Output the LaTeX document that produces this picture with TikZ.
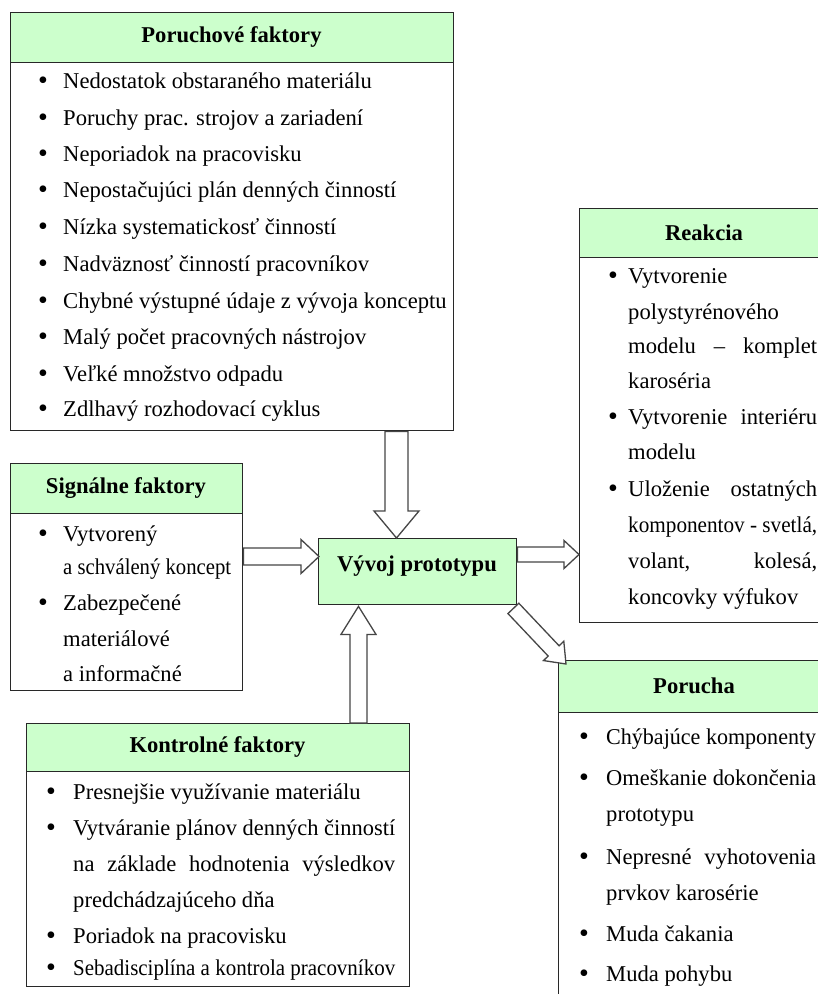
\documentclass[tikz,border=0pt]{standalone}
\usepackage{fontspec}
\setmainfont{Liberation Serif}
\usetikzlibrary{calc}
\definecolor{hdrgreen}{RGB}{204,255,204}
\definecolor{edgecol}{RGB}{40,40,40}
\definecolor{arrcol}{RGB}{70,70,70}
\newcommand\jl[2]{\setbox0=\hbox{#2}\ifdim\wd0>#1\relax\resizebox{#1}{\height}{#2}\else\hbox to #1{\spaceskip=.25em plus 1fill\relax #2}\fi}
\newcommand\bulletmark{\raisebox{-1.2pt}{\fontsize{28}{28}\selectfont\textbullet}}
\newcommand\itm[5]{\node[txt] (#1) at (#2,#3) {\makebox[#4][l]{\bulletmark}#5};}
\newcommand\barrow[5]{%
 \coordinate (ba) at ($(#2)!#5!(#1)$);
 \draw[blockarrow] ($(#1)!#3!90:(#2)$) -- ($(ba)!#3!-90:(#1)$) -- ($(ba)!#4!-90:(#1)$) -- (#2) -- ($(ba)!#4!90:(#1)$) -- ($(ba)!#3!90:(#1)$) -- ($(#1)!#3!-90:(#2)$) -- cycle;}
\tikzset{
 box/.style={draw=edgecol, line width=1.4pt, fill=white, anchor=north west, inner sep=0pt},
 hdr/.style={draw=edgecol, line width=1.4pt, fill=hdrgreen, anchor=north west, inner sep=0pt},
 htxt/.style={font=\fontsize{22.6}{26}\selectfont\bfseries, inner sep=0pt},
 txt/.style={font=\fontsize{22.6}{26}\selectfont, anchor=west, inner sep=0pt, text height=16pt, text depth=4pt},
 blockarrow/.style={draw=arrcol, line width=1.3pt, fill=white, line join=miter},
}
\begin{document}
\begin{tikzpicture}[x=1pt,y=-1pt]
\useasboundingbox (0,0) rectangle (818,994);
\clip (0,0) rectangle (818,994);
\fill[white] (0,0) rectangle (818,994);

% Poruchove faktory
\node[box, minimum width=443pt, minimum height=418pt] (pf) at (10,12) {};
\node[hdr, minimum width=443pt, minimum height=50pt] (pfh) at (10,12) {};
\node[htxt] (pft) at (231.5,37) {Poruchové faktory};
\itm{pf1}{38}{82}{25pt}{Nedostatok obstaraného materiálu}
\itm{pf2}{38}{119}{25pt}{Poruchy prac. strojov a zariadení}
\itm{pf3}{38}{155}{25pt}{Neporiadok na pracovisku}
\itm{pf4}{38}{191}{25pt}{Nepostačujúci plán denných činností}
\itm{pf5}{38}{228}{25pt}{Nízka systematickosť činností}
\itm{pf6}{38}{265}{25pt}{Nadväznosť činností pracovníkov}
\itm{pf7}{38}{302}{25pt}{Chybné výstupné údaje z vývoja konceptu}
\itm{pf8}{38}{338}{25pt}{Malý počet pracovných nástrojov}
\itm{pf9}{38}{375}{25pt}{Veľké množstvo odpadu}
\itm{pf10}{38}{410}{25pt}{Zdlhavý rozhodovací cyklus}

% Signalne faktory
\node[box, minimum width=232pt, minimum height=227pt] (sf) at (10,463) {};
\node[hdr, minimum width=232pt, minimum height=50pt] (sfh) at (10,463) {};
\node[htxt] (sft) at (126,488) {Signálne faktory};
\itm{sf1}{38}{535}{25pt}{Vytvorený}
\node[txt] (sf2) at (63,568) {\jl{168pt}{a schválený koncept}};
\itm{sf3}{38}{604}{25pt}{Zabezpečené}
\node[txt] (sf4) at (63,640) {materiálové};
\node[txt] (sf5) at (63,675) {a informačné};

% Vyvoj prototypu
\node[hdr, minimum width=198pt, minimum height=66pt] (vp) at (318,538) {};
\node[htxt] (vpt) at (417,566) {Vývoj prototypu};

% Reakcia
\node[box, minimum width=251pt, minimum height=414pt] (rk) at (579,208) {};
\node[hdr, minimum width=251pt, minimum height=49pt] (rkh) at (579,208) {};
\node[htxt] (rkt) at (704,232.5) {Reakcia};
\itm{rk1}{608}{277}{20pt}{Vytvorenie}
\node[txt] (rk2) at (628,313) {polystyrénového};
\node[txt] (rk3) at (628,347) {\jl{189pt}{modelu – komplet}};
\node[txt] (rk4) at (628,382) {karoséria};
\itm{rk5}{608}{418}{20pt}{\jl{189pt}{Vytvorenie interiéru}}
\node[txt] (rk6) at (628,453) {modelu};
\itm{rk7}{608}{490}{20pt}{\jl{189pt}{Uloženie ostatných}}
\node[txt] (rk8) at (628,526) {\jl{189pt}{komponentov - svetlá,}};
\node[txt] (rk9) at (628,562) {\jl{189pt}{volant, kolesá,}};
\node[txt] (rk10) at (628,598) {koncovky výfukov};

% Porucha
\node[box, minimum width=272pt, minimum height=350pt] (pr) at (558,660) {};
\node[hdr, minimum width=272pt, minimum height=52pt] (prh) at (558,660) {};
\node[htxt] (prt) at (694,686) {Porucha};
\itm{pr1}{579}{738}{27pt}{\jl{210pt}{Chýbajúce komponenty}}
\itm{pr2}{579}{779}{27pt}{\jl{210pt}{Omeškanie dokončenia}}
\node[txt] (pr3) at (606,815) {prototypu};
\itm{pr4}{579}{858}{27pt}{\jl{210pt}{Nepresné vyhotovenia}}
\node[txt] (pr5) at (606,894) {prvkov karosérie};
\itm{pr6}{579}{935}{27pt}{Muda čakania}
\itm{pr7}{579}{975}{27pt}{Muda pohybu}

% Kontrolne faktory
\node[box, minimum width=383pt, minimum height=263pt] (kf) at (26,723) {};
\node[hdr, minimum width=383pt, minimum height=48pt] (kfh) at (26,723) {};
\node[htxt] (kft) at (217.5,747) {Kontrolné faktory};
\itm{kf1}{46}{793}{27pt}{Presnejšie využívanie materiálu}
\itm{kf2}{46}{829}{27pt}{\jl{322pt}{Vytváranie plánov denných činností}}
\node[txt] (kf3) at (73,865) {\jl{322pt}{na základe hodnotenia výsledkov}};
\node[txt] (kf4) at (73,901) {predchádzajúceho dňa};
\itm{kf5}{46}{937}{27pt}{Poriadok na pracovisku}
\itm{kf6}{46}{969}{27pt}{\jl{322pt}{Sebadisciplína a kontrola pracovníkov}}

% block arrows
\coordinate (a1s) at ($(pf.south west)+(386.5,0)$);
\coordinate (a1e) at ($(vp.north west)+(78.5,0)$);
\barrow{a1s}{a1e}{11.5pt}{22.5pt}{27pt}
\coordinate (a2s) at ($(sf.north east)+(0,93.5)$);
\coordinate (a2e) at ($(vp.north west)+(1,18.5)$);
\barrow{a2s}{a2e}{8.5pt}{17pt}{18pt}
\coordinate (a3s) at ($(vp.north east)+(0,16.5)$);
\coordinate (a3e) at ($(rk.north west)+(0,346.5)$);
\barrow{a3s}{a3e}{7.5pt}{14pt}{15pt}
\coordinate (a4s) at ($(kf.north west)+(332.5,0)$);
\coordinate (a4e) at ($(vp.south west)+(40.5,1)$);
\barrow{a4s}{a4e}{8.5pt}{17.5pt}{28pt}
\coordinate (a5s) at ($(vp.south east)+(-4,3)$);
\coordinate (a5e) at ($(pr.north west)+(8,4)$);
\barrow{a5s}{a5e}{7.5pt}{14pt}{18pt}
\end{tikzpicture}
\end{document}
